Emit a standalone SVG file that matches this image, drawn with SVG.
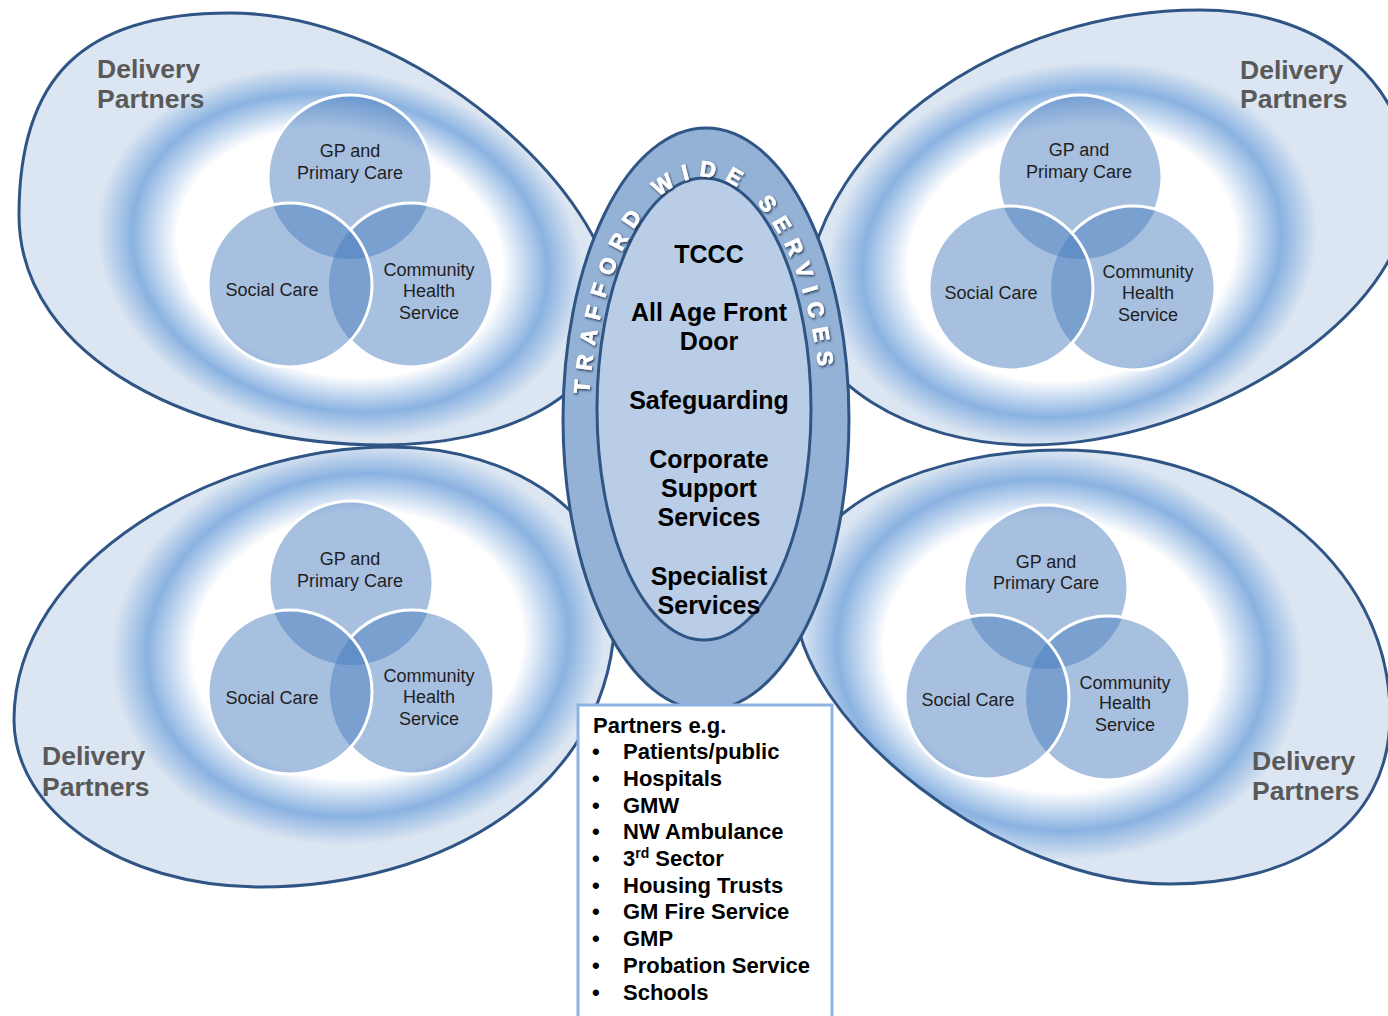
<svg xmlns="http://www.w3.org/2000/svg" xmlns:xlink="http://www.w3.org/1999/xlink" width="1388" height="1016" viewBox="0 0 1388 1016">
<defs>
<style>
.wing{fill:#dce6f2}
.wline{fill:none;stroke:#2f5585;stroke-width:3}
.vc{fill:#4b7ec0;fill-opacity:0.49}
.vs{fill:none;stroke:#ffffff;stroke-width:3}
.vt{font-family:"Liberation Sans",Arial,sans-serif;font-size:18px;fill:#1f1f1f;text-anchor:middle}
.dp{font-family:"Liberation Sans",Arial,sans-serif;font-weight:bold;font-size:26.5px;fill:#595959}
.ct{font-family:"Liberation Sans",Arial,sans-serif;font-weight:bold;font-size:25px;fill:#000;text-anchor:middle}
.pt{font-family:"Liberation Sans",Arial,sans-serif;font-weight:bold;font-size:22px;fill:#000}
.arc{font-family:"Liberation Sans",Arial,sans-serif;font-weight:bold;font-size:22px;fill:#ffffff;stroke:#ffffff;stroke-width:0.8px;letter-spacing:9.5px;word-spacing:0px}
</style>
<path id="shapeTL" d="M19,215 C19,360 200,445 383,445 C500,445 612,400 612,300 C612,200 420,13 230,13 C80,13 19,80 19,215 Z"/>
<path id="shapeTR" d="M804,300 C820,130 1010,10 1200,10 C1330,10 1410,90 1410,185 C1410,320 1200,445 1030,445 C910,445 804,380 804,300 Z"/>
<path id="shapeBL" d="M14,720 C14,560 220,447 390,447 C520,447 615,520 615,610 C615,790 440,887 260,887 C120,887 14,810 14,720 Z"/>
<path id="shapeBR" d="M795,600 C800,500 940,450 1060,450 C1240,450 1390,560 1390,715 C1390,830 1290,884 1170,884 C1000,884 795,720 795,600 Z"/>
<clipPath id="clipTL"><use xlink:href="#shapeTL"/></clipPath>
<clipPath id="clipTR"><use xlink:href="#shapeTR"/></clipPath>
<clipPath id="clipBL"><use xlink:href="#shapeBL"/></clipPath>
<clipPath id="clipBR"><use xlink:href="#shapeBR"/></clipPath>
<radialGradient id="glow" cx="50%" cy="50%" r="50%">
<stop offset="0" stop-color="#ffffff"/>
<stop offset="0.64" stop-color="#ffffff"/>
<stop offset="0.82" stop-color="#8ab2e1"/>
<stop offset="0.96" stop-color="#dce6f2"/>
<stop offset="1" stop-color="#dce6f2"/>
</radialGradient>
<filter id="ts" x="-30%" y="-30%" width="160%" height="160%">
<feDropShadow dx="1" dy="1.4" stdDeviation="1.1" flood-color="#1c3250" flood-opacity="0.95"/>
</filter>
<path id="arcPath" d="M588,430 A117,253 0 1 1 822,430"/>
<mask id="m-tl-gp" maskUnits="userSpaceOnUse" x="0" y="0" width="1388" height="1016"><rect width="1388" height="1016" fill="#fff"/><circle cx="290" cy="285" r="81" fill="#000"/><circle cx="411" cy="285" r="81" fill="#000"/></mask>
<mask id="m-tl-c" maskUnits="userSpaceOnUse" x="0" y="0" width="1388" height="1016"><rect width="1388" height="1016" fill="#fff"/><circle cx="290" cy="285" r="81" fill="#000"/></mask>
<mask id="m-tr-gp" maskUnits="userSpaceOnUse" x="0" y="0" width="1388" height="1016"><rect width="1388" height="1016" fill="#fff"/><circle cx="1011" cy="288" r="81" fill="#000"/><circle cx="1133" cy="288" r="81" fill="#000"/></mask>
<mask id="m-tr-c" maskUnits="userSpaceOnUse" x="0" y="0" width="1388" height="1016"><rect width="1388" height="1016" fill="#fff"/><circle cx="1011" cy="288" r="81" fill="#000"/></mask>
<mask id="m-bl-gp" maskUnits="userSpaceOnUse" x="0" y="0" width="1388" height="1016"><rect width="1388" height="1016" fill="#fff"/><circle cx="290" cy="692" r="81" fill="#000"/><circle cx="412" cy="692" r="81" fill="#000"/></mask>
<mask id="m-bl-c" maskUnits="userSpaceOnUse" x="0" y="0" width="1388" height="1016"><rect width="1388" height="1016" fill="#fff"/><circle cx="290" cy="692" r="81" fill="#000"/></mask>
<mask id="m-br-gp" maskUnits="userSpaceOnUse" x="0" y="0" width="1388" height="1016"><rect width="1388" height="1016" fill="#fff"/><circle cx="987" cy="697" r="81" fill="#000"/><circle cx="1108" cy="698" r="81" fill="#000"/></mask>
<mask id="m-br-c" maskUnits="userSpaceOnUse" x="0" y="0" width="1388" height="1016"><rect width="1388" height="1016" fill="#fff"/><circle cx="987" cy="697" r="81" fill="#000"/></mask>
</defs>
<rect width="1388" height="1016" fill="#ffffff"/>

<!-- Top-left wing -->
<g id="wing-tl">
<use xlink:href="#shapeTL" class="wing"/>
<g clip-path="url(#clipTL)"><ellipse cx="340" cy="253" rx="256" ry="191" transform="rotate(12 340 253)" fill="url(#glow)"/></g>
<use xlink:href="#shapeTL" class="wline"/>
<text class="dp" x="97" y="78">Delivery</text>
<text class="dp" x="97" y="108">Partners</text>
<g id="tl-gp"><circle class="vc" cx="350" cy="177" r="82"/><circle class="vs" cx="350" cy="177" r="82" mask="url(#m-tl-gp)"/>
<text class="vt" x="350" y="157">GP and</text><text class="vt" x="350" y="179">Primary Care</text></g>
<g id="tl-community"><circle class="vc" cx="411" cy="285" r="82"/><circle class="vs" cx="411" cy="285" r="82" mask="url(#m-tl-c)"/>
<text class="vt" x="429" y="276">Community</text><text class="vt" x="429" y="297">Health</text><text class="vt" x="429" y="319">Service</text></g>
<g id="tl-social"><circle class="vc" cx="290" cy="285" r="82"/><circle class="vs" cx="290" cy="285" r="82"/>
<text class="vt" x="272" y="296">Social Care</text></g>
</g>

<!-- Top-right wing -->
<g id="wing-tr">
<use xlink:href="#shapeTR" class="wing"/>
<g clip-path="url(#clipTR)"><ellipse cx="1072" cy="253" rx="258" ry="197" transform="rotate(-12 1072 253)" fill="url(#glow)"/></g>
<use xlink:href="#shapeTR" class="wline"/>
<text class="dp" x="1240" y="79">Delivery</text>
<text class="dp" x="1240" y="108">Partners</text>
<g id="tr-gp"><circle class="vc" cx="1080" cy="177" r="82"/><circle class="vs" cx="1080" cy="177" r="82" mask="url(#m-tr-gp)"/>
<text class="vt" x="1079" y="156">GP and</text><text class="vt" x="1079" y="178">Primary Care</text></g>
<g id="tr-community"><circle class="vc" cx="1133" cy="288" r="82"/><circle class="vs" cx="1133" cy="288" r="82" mask="url(#m-tr-c)"/>
<text class="vt" x="1148" y="278">Community</text><text class="vt" x="1148" y="299">Health</text><text class="vt" x="1148" y="321">Service</text></g>
<g id="tr-social"><circle class="vc" cx="1011" cy="288" r="82"/><circle class="vs" cx="1011" cy="288" r="82"/>
<text class="vt" x="991" y="299">Social Care</text></g>
</g>

<!-- Bottom-left wing -->
<g id="wing-bl">
<use xlink:href="#shapeBL" class="wing"/>
<g clip-path="url(#clipBL)"><ellipse cx="358" cy="645" rx="258" ry="208" transform="rotate(-8 358 645)" fill="url(#glow)"/></g>
<use xlink:href="#shapeBL" class="wline"/>
<text class="dp" x="42" y="765">Delivery</text>
<text class="dp" x="42" y="796">Partners</text>
<g id="bl-gp"><circle class="vc" cx="351" cy="583" r="82"/><circle class="vs" cx="351" cy="583" r="82" mask="url(#m-bl-gp)"/>
<text class="vt" x="350" y="565">GP and</text><text class="vt" x="350" y="587">Primary Care</text></g>
<g id="bl-community"><circle class="vc" cx="412" cy="692" r="82"/><circle class="vs" cx="412" cy="692" r="82" mask="url(#m-bl-c)"/>
<text class="vt" x="429" y="682">Community</text><text class="vt" x="429" y="703">Health</text><text class="vt" x="429" y="725">Service</text></g>
<g id="bl-social"><circle class="vc" cx="290" cy="692" r="82"/><circle class="vs" cx="290" cy="692" r="82"/>
<text class="vt" x="272" y="704">Social Care</text></g>
</g>

<!-- Bottom-right wing -->
<g id="wing-br">
<use xlink:href="#shapeBR" class="wing"/>
<g clip-path="url(#clipBR)"><ellipse cx="1052" cy="655" rx="263" ry="213" transform="rotate(8 1052 655)" fill="url(#glow)"/></g>
<use xlink:href="#shapeBR" class="wline"/>
<text class="dp" x="1252" y="770">Delivery</text>
<text class="dp" x="1252" y="800">Partners</text>
<g id="br-gp"><circle class="vc" cx="1046" cy="587" r="82"/><circle class="vs" cx="1046" cy="587" r="82" mask="url(#m-br-gp)"/>
<text class="vt" x="1046" y="568">GP and</text><text class="vt" x="1046" y="589">Primary Care</text></g>
<g id="br-community"><circle class="vc" cx="1108" cy="698" r="82"/><circle class="vs" cx="1108" cy="698" r="82" mask="url(#m-br-c)"/>
<text class="vt" x="1125" y="689">Community</text><text class="vt" x="1125" y="709">Health</text><text class="vt" x="1125" y="731">Service</text></g>
<g id="br-social"><circle class="vc" cx="987" cy="697" r="82"/><circle class="vs" cx="987" cy="697" r="82"/>
<text class="vt" x="968" y="706">Social Care</text></g>
</g>

<!-- Centre body -->
<g id="trafford-wide-services">
<ellipse cx="706" cy="419" rx="143" ry="291" fill="#94b1d6" stroke="#2f5585" stroke-width="3"/>
<ellipse cx="704" cy="409" rx="107" ry="231" fill="#b9cde6" stroke="#2f5585" stroke-width="3"/>
<text class="arc" filter="url(#ts)"><textPath xlink:href="#arcPath" startOffset="36">TRAFFORD WIDE SERVICES</textPath></text>
<text class="ct" x="709" y="263">TCCC</text>
<text class="ct" x="709" y="321">All Age Front</text>
<text class="ct" x="709" y="350">Door</text>
<text class="ct" x="709" y="409">Safeguarding</text>
<text class="ct" x="709" y="468">Corporate</text>
<text class="ct" x="709" y="497">Support</text>
<text class="ct" x="709" y="526">Services</text>
<text class="ct" x="709" y="585">Specialist</text>
<text class="ct" x="709" y="614">Services</text>
</g>

<!-- Partners box -->
<g id="partners">
<rect x="578" y="705" width="254" height="320" fill="#ffffff" stroke="#8db3e2" stroke-width="3"/>
<text class="pt" x="593" y="733">Partners e.g.</text>
<text class="pt" x="592" y="759">•</text><text class="pt" x="623" y="759">Patients/public</text>
<text class="pt" x="592" y="786">•</text><text class="pt" x="623" y="786">Hospitals</text>
<text class="pt" x="592" y="813">•</text><text class="pt" x="623" y="813">GMW</text>
<text class="pt" x="592" y="839">•</text><text class="pt" x="623" y="839">NW Ambulance</text>
<text class="pt" x="592" y="866">•</text><text class="pt" x="623" y="866">3<tspan font-size="14" dy="-8">rd</tspan><tspan dy="8"> Sector</tspan></text>
<text class="pt" x="592" y="893">•</text><text class="pt" x="623" y="893">Housing Trusts</text>
<text class="pt" x="592" y="919">•</text><text class="pt" x="623" y="919">GM Fire Service</text>
<text class="pt" x="592" y="946">•</text><text class="pt" x="623" y="946">GMP</text>
<text class="pt" x="592" y="973">•</text><text class="pt" x="623" y="973">Probation Service</text>
<text class="pt" x="592" y="1000">•</text><text class="pt" x="623" y="1000">Schools</text>
</g>
</svg>
